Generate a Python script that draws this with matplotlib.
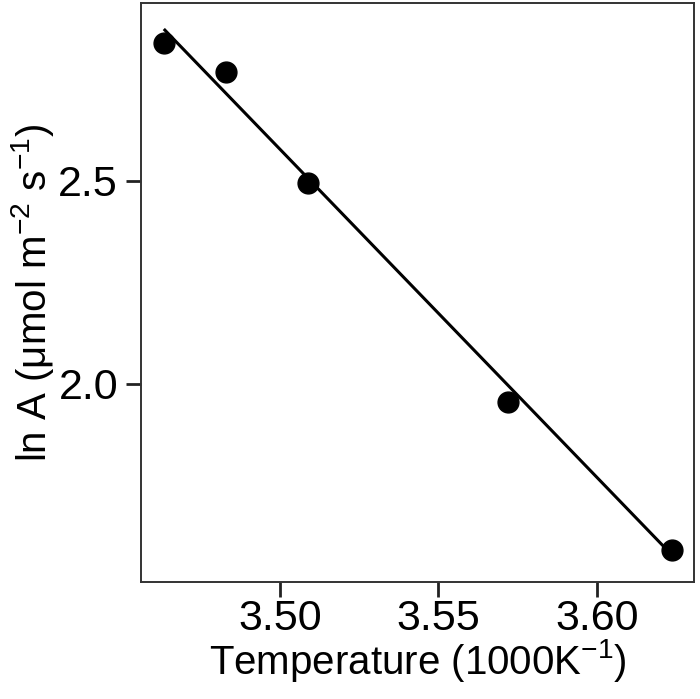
import numpy as np
import matplotlib
matplotlib.use("Agg")
import matplotlib.pyplot as plt

plt.rcParams['font.family'] = ['Liberation Sans', 'DejaVu Sans']
plt.rcParams['mathtext.fontset'] = 'custom'
plt.rcParams['mathtext.rm'] = 'Liberation Sans'
plt.rcParams['mathtext.it'] = 'Liberation Sans:italic'
plt.rcParams['mathtext.bf'] = 'Liberation Sans:bold'

# podaci (ocitano sa slike)
inv_temp = [3.4634, 3.4830, 3.5088, 3.5719, 3.6237]
ln_a = [2.840, 2.768, 2.495, 1.956, 1.591]

# krajevi pravca (fit)
fit_x = [3.4634, 3.6237]
fit_y = [2.874, 1.578]

x_ticks = [3.50, 3.55, 3.60]
x_tick_labels = ['3.50', '3.55', '3.60']
y_ticks = [2.0, 2.5]
y_tick_labels = ['2.0', '2.5']

fig = plt.figure(figsize=(7.0, 6.99), dpi=100)
ax = fig.add_axes([0.2014, 0.1674, 0.79, 0.8283])

ax.plot(fit_x, fit_y, color='black', linewidth=2.2, solid_capstyle='butt')
ax.plot(inv_temp, ln_a, 'o', color='black', markersize=15)

ax.set_xlim(3.4562, 3.6306)
ax.set_ylim(1.512, 2.938)
ax.set_xticks(x_ticks)
ax.set_xticklabels(x_tick_labels)
ax.set_yticks(y_ticks)
ax.set_yticklabels(y_tick_labels)

ax.tick_params(direction='out', length=10.5, width=2, labelsize=31, pad=2, color='#222222')
ax.tick_params(axis='y', pad=6)
for s in ax.spines.values():
    s.set_linewidth(1.4)
    s.set_color('#333333')

ax.set_xlabel('Temperature (1000K$^{-1}$)', fontsize=29, labelpad=-2)
ax.set_ylabel('ln A (μmol m$^{-2}$ s$^{-1}$)', fontsize=29, labelpad=2)

fig.savefig('out.png', dpi=100)
